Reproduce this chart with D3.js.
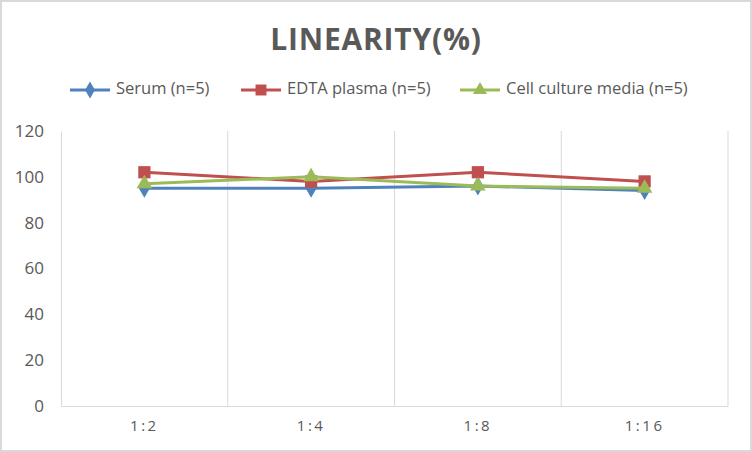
<!DOCTYPE html>
<html>
<head>
<meta charset="utf-8">
<script src="https://cdn.jsdelivr.net/npm/d3@7"></script>
<style>
  html, body { margin: 0; padding: 0; background: #fff; }
  svg { display: block; }
</style>
</head>
<body>
<div id="chart"></div>
<script>
// Linearity chart - three sample types across four dilutions

const categories = ["1:2", "1:4", "1:8", "1:16"];
const serum      = [95, 95, 96, 94];
const edta       = [102, 98, 102, 98];
const cellMedia  = [97, 100, 96, 95];
const yTicks     = [0, 20, 40, 60, 80, 100, 120];

const series = [
  { name: "Serum (n=5)",              values: serum,     color: "#4F81BD", shape: d3.symbolDiamond },
  { name: "EDTA plasma (n=5)",        values: edta,      color: "#C0504D", shape: d3.symbolSquare },
  { name: "Cell culture media (n=5)", values: cellMedia, color: "#9BBB59", shape: d3.symbolTriangle },
];

const W = 752, H = 452;
const m = { top: 131, right: 24, bottom: 46, left: 61 };
const iw = W - m.left - m.right;
const ih = H - m.top - m.bottom;
const FONT = "'Open Sans', 'DejaVu Sans', sans-serif";
const TEXT = "#595959";

const svg = d3.select("#chart").append("svg")
  .attr("width", W).attr("height", H);

// outer frame
svg.append("rect")
  .attr("x", 1).attr("y", 1).attr("width", W - 2).attr("height", H - 2)
  .attr("fill", "#fff").attr("stroke", "#D9D9D9").attr("stroke-width", 2);

// title
svg.append("text")
  .attr("x", W / 2).attr("y", 50)
  .attr("text-anchor", "middle")
  .attr("fill", TEXT)
  .attr("font-family", FONT)
  .attr("font-size", "30px")
  .attr("font-weight", "bold")
  .attr("letter-spacing", "0.8px")
  .text("LINEARITY(%)");

const x = d3.scaleBand().domain(categories).range([0, iw]);
const y = d3.scaleLinear().domain([0, 120]).range([ih, 0]);

const g = svg.append("g").attr("transform", `translate(${m.left},${m.top})`);

// vertical gridlines between categories
categories.forEach(c => {
  g.append("line")
    .attr("x1", x(c) + x.bandwidth()).attr("x2", x(c) + x.bandwidth())
    .attr("y1", 0).attr("y2", ih)
    .attr("stroke", "#D9D9D9").attr("stroke-width", 1);
});

// y axis
const yAxisG = g.append("g")
  .call(d3.axisLeft(y).tickValues(yTicks).tickSize(0).tickPadding(17));
yAxisG.select(".domain").attr("stroke", "#D9D9D9");
yAxisG.selectAll("text")
  .attr("fill", TEXT)
  .attr("font-size", "17px")
  .attr("font-family", FONT);

// x axis
const xAxisG = g.append("g")
  .attr("transform", `translate(0,${ih})`)
  .call(d3.axisBottom(x).tickSize(0).tickPadding(14));
xAxisG.select(".domain").attr("stroke", "#D9D9D9");
xAxisG.selectAll("text")
  .attr("fill", TEXT)
  .attr("font-size", "15px")
  .attr("letter-spacing", "2.5px")
  .attr("font-family", FONT);

const cx = c => x(c) + x.bandwidth() / 2;
const line = d3.line().x((d, i) => cx(categories[i])).y(d => y(d));

// lines and markers
series.forEach(s => {
  g.append("path")
    .datum(s.values)
    .attr("fill", "none")
    .attr("stroke", s.color)
    .attr("stroke-width", 3)
    .attr("d", line);

  g.selectAll(null)
    .data(s.values)
    .join("path")
      .attr("transform", (d, i) => `translate(${cx(categories[i])},${y(d)})`)
      .attr("d", d3.symbol().type(s.shape).size(s.shape === d3.symbolSquare ? 150 : 105))
      .attr("fill", s.color);
});

// legend
const legendX = [70, 241, 460];
series.forEach((s, i) => {
  const lg = svg.append("g").attr("transform", `translate(${legendX[i]},90)`);
  lg.append("line")
    .attr("x1", 0).attr("x2", 40)
    .attr("stroke", s.color).attr("stroke-width", 3);
  lg.append("path")
    .attr("transform", "translate(20,0)")
    .attr("d", d3.symbol().type(s.shape).size(s.shape === d3.symbolSquare ? 120 : 85))
    .attr("fill", s.color);
  lg.append("text")
    .attr("x", 46).attr("y", 0)
    .attr("dominant-baseline", "middle")
    .attr("fill", TEXT)
    .attr("font-size", "16.5px")
    .attr("font-family", FONT)
    .text(s.name);
});
</script>
</body>
</html>
